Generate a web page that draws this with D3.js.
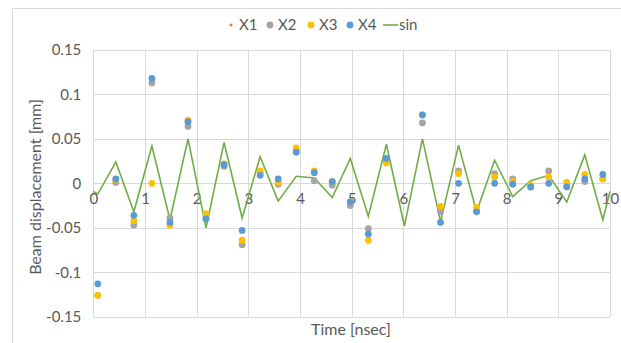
<!DOCTYPE html>
<html>
<head>
<meta charset="utf-8">
<script src="https://cdn.jsdelivr.net/npm/d3@7"></script>
<style>
  html, body { margin: 0; padding: 0; background: #fff; }
  svg { display: block; }
  text { font-family: Lato, "Open Sans", sans-serif; fill: #595959; }
</style>
</head>
<body>
<svg id="chart" width="621" height="343"></svg>
<script>
// Sample times [nsec] for the measured series
const sampleTimes = [0.087, 0.436, 0.785, 1.134, 1.484, 1.833, 2.182, 2.531, 2.880, 3.229,
  3.578, 3.927, 4.276, 4.625, 4.974, 5.323, 5.672, 6.021, 6.370, 6.720,
  7.069, 7.418, 7.767, 8.116, 8.465, 8.814, 9.163, 9.512, 9.861];

// Beam displacement [mm] per series (null = no sample)
const x1Values = [-0.126, 0.001, -0.047, 0.113, -0.039, 0.064, -0.038, 0.019, -0.069, 0.012,
  -0.001, 0.037, 0.003, -0.002, -0.025, -0.051, 0.025, null, 0.068, -0.032,
  0.014, -0.031, 0.011, 0.005, -0.004, 0.014, -0.003, 0.002, 0.005];
const x2Values = [-0.126, 0.001, -0.047, 0.113, -0.039, 0.064, -0.038, 0.019, -0.069, 0.012,
  -0.001, 0.037, 0.003, -0.002, -0.025, -0.051, 0.025, null, 0.068, -0.032,
  0.014, -0.031, 0.011, 0.005, -0.004, 0.014, -0.003, 0.002, 0.005];
const x3Values = [-0.126, 0.004, -0.042, 0.000, -0.047, 0.071, -0.034, 0.022, -0.064, 0.014,
  0.001, 0.040, 0.014, 0.002, -0.021, -0.064, 0.023, null, 0.077, -0.026,
  0.011, -0.027, 0.007, 0.002, -0.002, 0.007, 0.001, 0.010, 0.005];
const x4Values = [-0.113, 0.005, -0.036, 0.118, -0.044, 0.069, -0.040, 0.021, -0.053, 0.009,
  0.005, 0.035, 0.012, 0.002, -0.021, -0.057, 0.028, null, 0.077, -0.044,
  0.000, -0.032, 0.000, -0.001, -0.004, 0.000, -0.004, 0.005, 0.010];

// Reference "sin" trace
const sinTimes = [0, 0.087, 0.436, 0.785, 1.134, 1.484, 1.833, 2.182, 2.531, 2.880, 3.229,
  3.578, 3.927, 4.276, 4.625, 4.974, 5.323, 5.672, 6.021, 6.370, 6.720,
  7.069, 7.418, 7.767, 8.116, 8.465, 8.814, 9.163, 9.512, 9.861, 10];
const sinValues = [-0.009, -0.012, 0.024, -0.032, 0.042, -0.041, 0.050, -0.050, 0.046, -0.039, 0.030,
  -0.020, 0.008, 0.006, -0.016, 0.028, -0.037, 0.044, -0.048, 0.050, -0.043,
  0.043, -0.032, 0.026, -0.015, 0.003, 0.009, -0.021, 0.032, -0.041, -0.009];

// Axis ticks
const xTicks = [0, 1, 2, 3, 4, 5, 6, 7, 8, 9, 10];
const yTicks = [-0.15, -0.1, -0.05, 0, 0.05, 0.1, 0.15];
const yTickLabels = ["-0.15", "-0.1", "-0.05", "0", "0.05", "0.1", "0.15"];

const seriesNames = ["X1", "X2", "X3", "X4"];
const seriesColors = ["#ED7D31", "#A5A5A5", "#FFC000", "#5B9BD5"];
const seriesRadius = [1.6, 3.4, 3.4, 3.4];
const seriesValues = [x1Values, x2Values, x3Values, x4Values];
const sinColor = "#70AD47";

const svg = d3.select("#chart");
const plot = { left: 93.3, right: 610, top: 50, bottom: 316.7 };

const x = d3.scaleLinear().domain([0, 10]).range([plot.left, plot.right]);
const y = d3.scaleLinear().domain([-0.15, 0.15]).range([plot.bottom, plot.top]);

// Chart frame
svg.append("path")
  .attr("d", `M12.5,343 V8.5 H621`)
  .attr("fill", "none")
  .attr("stroke", "#D9D9D9")
  .attr("stroke-width", 1);

// Grid
const grid = svg.append("g");
grid.selectAll("line.h").data(yTicks).join("line")
  .attr("x1", plot.left).attr("x2", plot.right)
  .attr("y1", d => Math.round(y(d)) + 0.5).attr("y2", d => Math.round(y(d)) + 0.5)
  .attr("stroke", "#D9D9D9").attr("stroke-width", 1);
grid.selectAll("line.v").data(xTicks).join("line")
  .attr("y1", plot.top).attr("y2", plot.bottom)
  .attr("x1", d => Math.round(x(d)) + 0.5).attr("x2", d => Math.round(x(d)) + 0.5)
  .attr("stroke", "#D9D9D9").attr("stroke-width", 1);

// Axes
const yAxis = svg.append("g")
  .attr("transform", `translate(${plot.left},0)`)
  .call(d3.axisLeft(y).tickValues(yTicks).tickSize(0).tickPadding(12)
    .tickFormat((d, i) => yTickLabels[i]));
yAxis.select(".domain").remove();
yAxis.selectAll("text").style("font-size", "15px").attr("fill", "#595959");

const xAxis = svg.append("g")
  .attr("transform", `translate(0,${y(0)})`)
  .call(d3.axisBottom(x).tickValues(xTicks).tickSize(0).tickPadding(10)
    .tickFormat(d3.format("d")));
xAxis.select(".domain").remove();
xAxis.selectAll("text").style("font-size", "15px").attr("fill", "#595959");

// Sin trace
const line = d3.line().x(d => x(d[0])).y(d => y(d[1]));
svg.append("path")
  .datum(sinTimes.map((t, i) => [t, sinValues[i]]))
  .attr("d", line)
  .attr("fill", "none")
  .attr("stroke", sinColor)
  .attr("stroke-width", 1.6)
  .attr("stroke-linejoin", "miter");

// Measured series markers
seriesValues.forEach((vals, s) => {
  const pts = sampleTimes.map((t, i) => [t, vals[i]]).filter(d => d[1] !== null);
  svg.append("g").selectAll("circle").data(pts).join("circle")
    .attr("cx", d => x(d[0]))
    .attr("cy", d => y(d[1]))
    .attr("r", seriesRadius[s])
    .attr("fill", seriesColors[s]);
});

// Axis titles
svg.append("text")
  .attr("x", 351).attr("y", 335)
  .attr("text-anchor", "middle")
  .style("font-size", "16px")
  .text("Time [nsec]");
svg.append("text")
  .attr("transform", "translate(41,187) rotate(-90)")
  .attr("text-anchor", "middle")
  .style("font-size", "16px")
  .text("Beam displacement [mm]");

// Legend
const legend = svg.append("g");
const legendX = [231, 270, 311, 350];
seriesNames.forEach((name, s) => {
  legend.append("circle")
    .attr("cx", legendX[s]).attr("cy", 25)
    .attr("r", s === 0 ? 1.6 : 3.4)
    .attr("fill", seriesColors[s]);
  legend.append("text")
    .attr("x", legendX[s] + 8).attr("y", 30)
    .style("font-size", "15px")
    .text(name);
});
legend.append("line")
  .attr("x1", 383).attr("x2", 398).attr("y1", 25).attr("y2", 25)
  .attr("stroke", sinColor).attr("stroke-width", 1.6);
legend.append("text")
  .attr("x", 399).attr("y", 30)
  .style("font-size", "15px")
  .text("sin");
</script>
</body>
</html>
